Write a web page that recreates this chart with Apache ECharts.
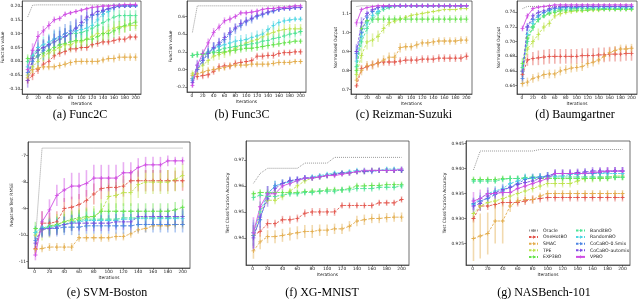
<!DOCTYPE html>
<html><head><meta charset="utf-8">
<script src="https://cdn.jsdelivr.net/npm/echarts@6/dist/echarts.min.js"></script>
<style>html,body{margin:0;padding:0;background:#fff}#c{width:640px;height:299px}</style>
</head><body><div id="c"></div>
<script>
const iterations = [1,10,20,30,40,50,60,70,80,90,100,110,120,130,140,150,160,170,180,190,200];
const methods = ['Oracle','OneHotBO','SMAC','TPE','EXP3BO','BanditBO','RandomBO','CoCaBO-0.5mix','CoCaBO-automix','VPBO'];
const xTicks = [0,20,40,60,80,100,120,140,160,180,200];

// ---------- (a) Func2C ----------
const func2cTicks = [-0.10,-0.05,0.00,0.05,0.10,0.15,0.20];
const func2cOracle = [0.160,0.203,0.204,0.204,0.204,0.204,0.204,0.204,0.204,0.204,0.204,0.204,0.204,0.204,0.204,0.204,0.204,0.204,0.204,0.204,0.204];
const func2cMean = [
 [-0.07,-0.05,-0.03,-0.01,0.0,0.02,0.03,0.035,0.045,0.045,0.05,0.05,0.06,0.065,0.07,0.07,0.075,0.08,0.08,0.088,0.088],
 [-0.06,-0.03,-0.025,-0.02,-0.02,-0.02,-0.015,-0.01,-0.005,0.0,0.0,0.0,0.0,0.0,0.005,0.01,0.01,0.015,0.015,0.015,0.015],
 [-0.05,-0.02,0.0,0.02,0.03,0.04,0.05,0.06,0.06,0.07,0.07,0.08,0.09,0.1,0.1,0.11,0.12,0.125,0.125,0.13,0.13],
 [0.01,0.01,0.02,0.03,0.04,0.05,0.06,0.065,0.07,0.075,0.075,0.08,0.08,0.09,0.1,0.1,0.11,0.12,0.13,0.135,0.142],
 [0.0,0.02,0.04,0.05,0.06,0.07,0.08,0.09,0.1,0.1,0.105,0.11,0.12,0.13,0.14,0.15,0.16,0.165,0.165,0.165,0.165],
 [-0.02,0.02,0.05,0.06,0.07,0.08,0.085,0.09,0.1,0.11,0.115,0.12,0.13,0.15,0.17,0.18,0.195,0.2,0.2,0.2,0.2],
 [-0.04,0.0,0.02,0.04,0.06,0.08,0.09,0.1,0.11,0.12,0.13,0.15,0.165,0.17,0.18,0.19,0.195,0.2,0.2,0.2,0.2],
 [-0.07,0.01,0.04,0.05,0.06,0.07,0.08,0.09,0.1,0.12,0.14,0.16,0.17,0.18,0.185,0.19,0.195,0.2,0.2,0.2,0.201],
 [-0.03,0.04,0.09,0.11,0.13,0.15,0.155,0.17,0.175,0.18,0.185,0.19,0.195,0.197,0.2,0.2,0.202,0.203,0.205,0.205,0.206]
];
const func2cErr = [
 [0.012,0.018,0.016,0.015,0.014,0.014,0.014,0.013,0.013,0.013,0.013,0.013,0.013,0.013,0.012,0.012,0.012,0.012,0.012,0.012,0.012],
 [0.018,0.015,0.012,0.012,0.012,0.012,0.012,0.012,0.012,0.012,0.012,0.012,0.012,0.012,0.012,0.012,0.014,0.014,0.014,0.014,0.014],
 [0.02,0.022,0.022,0.022,0.022,0.024,0.024,0.025,0.025,0.025,0.025,0.025,0.025,0.025,0.025,0.025,0.025,0.022,0.022,0.02,0.02],
 [0.015,0.02,0.025,0.028,0.03,0.03,0.03,0.03,0.03,0.03,0.03,0.028,0.028,0.028,0.028,0.026,0.026,0.025,0.025,0.025,0.025],
 [0.015,0.02,0.025,0.028,0.03,0.03,0.03,0.03,0.03,0.03,0.03,0.03,0.03,0.028,0.028,0.026,0.024,0.022,0.02,0.02,0.02],
 [0.02,0.025,0.028,0.03,0.03,0.03,0.03,0.03,0.03,0.03,0.03,0.03,0.03,0.028,0.025,0.02,0.015,0.01,0.008,0.006,0.006],
 [0.025,0.03,0.035,0.035,0.035,0.035,0.035,0.035,0.035,0.035,0.035,0.03,0.028,0.025,0.02,0.015,0.01,0.008,0.006,0.005,0.005],
 [0.025,0.03,0.03,0.03,0.03,0.03,0.03,0.03,0.03,0.03,0.028,0.025,0.02,0.018,0.015,0.012,0.01,0.008,0.006,0.005,0.005],
 [0.02,0.025,0.02,0.018,0.015,0.012,0.01,0.01,0.008,0.008,0.007,0.006,0.006,0.005,0.005,0.004,0.004,0.004,0.004,0.004,0.004]
];

// ---------- (b) Func3C ----------
const func3cTicks = [-0.2,0.0,0.2,0.4,0.6];
const func3cOracle = [0.42,0.72,0.72,0.72,0.72,0.72,0.72,0.72,0.72,0.72,0.72,0.72,0.72,0.72,0.72,0.72,0.72,0.72,0.72,0.72,0.72];
const func3cMean = [
 [-0.1,-0.08,-0.07,-0.06,-0.02,0.03,0.04,0.04,0.07,0.08,0.09,0.1,0.15,0.15,0.16,0.16,0.18,0.19,0.19,0.2,0.2],
 [-0.07,-0.05,-0.03,-0.01,0.0,0.01,0.02,0.04,0.05,0.05,0.05,0.06,0.06,0.06,0.06,0.07,0.08,0.08,0.08,0.09,0.09],
 [-0.05,0.0,0.05,0.1,0.15,0.17,0.19,0.21,0.24,0.27,0.3,0.32,0.34,0.37,0.4,0.42,0.44,0.45,0.46,0.46,0.46],
 [0.16,0.17,0.17,0.18,0.19,0.19,0.2,0.21,0.22,0.23,0.24,0.24,0.25,0.26,0.27,0.28,0.29,0.3,0.31,0.32,0.32],
 [0.16,0.17,0.18,0.19,0.2,0.22,0.24,0.25,0.26,0.27,0.28,0.29,0.3,0.32,0.33,0.35,0.36,0.38,0.4,0.41,0.43],
 [-0.1,0.0,0.1,0.18,0.24,0.26,0.28,0.3,0.32,0.33,0.34,0.36,0.38,0.4,0.45,0.5,0.53,0.55,0.56,0.57,0.57],
 [-0.12,0.05,0.12,0.2,0.24,0.28,0.34,0.4,0.46,0.5,0.54,0.57,0.6,0.62,0.64,0.66,0.68,0.69,0.69,0.7,0.7],
 [-0.15,0.0,0.1,0.18,0.25,0.3,0.36,0.42,0.47,0.52,0.55,0.58,0.61,0.63,0.65,0.67,0.68,0.69,0.69,0.7,0.7],
 [-0.18,0.05,0.18,0.3,0.42,0.48,0.55,0.57,0.6,0.64,0.64,0.65,0.66,0.68,0.69,0.69,0.7,0.7,0.71,0.72,0.72]
];
const func3cErr = [
 [0.03,0.04,0.04,0.04,0.04,0.04,0.04,0.04,0.04,0.04,0.04,0.04,0.04,0.04,0.04,0.04,0.04,0.035,0.035,0.035,0.035],
 [0.04,0.04,0.04,0.04,0.04,0.035,0.035,0.035,0.035,0.035,0.035,0.035,0.035,0.035,0.035,0.035,0.035,0.03,0.03,0.03,0.03],
 [0.04,0.05,0.05,0.05,0.05,0.06,0.06,0.06,0.06,0.06,0.06,0.06,0.06,0.06,0.06,0.06,0.06,0.06,0.055,0.055,0.055],
 [0.03,0.035,0.035,0.04,0.04,0.04,0.04,0.04,0.04,0.04,0.04,0.04,0.04,0.04,0.04,0.035,0.035,0.035,0.03,0.03,0.03],
 [0.03,0.035,0.04,0.045,0.05,0.05,0.05,0.05,0.05,0.05,0.05,0.05,0.05,0.05,0.05,0.05,0.05,0.05,0.05,0.048,0.048],
 [0.04,0.05,0.06,0.06,0.06,0.06,0.06,0.06,0.06,0.06,0.06,0.06,0.06,0.06,0.05,0.05,0.04,0.04,0.035,0.03,0.03],
 [0.04,0.06,0.07,0.07,0.07,0.07,0.07,0.07,0.06,0.06,0.05,0.05,0.04,0.04,0.03,0.03,0.03,0.02,0.02,0.02,0.02],
 [0.04,0.06,0.06,0.06,0.06,0.06,0.06,0.06,0.05,0.05,0.05,0.04,0.04,0.03,0.03,0.03,0.02,0.02,0.02,0.02,0.02],
 [0.03,0.05,0.05,0.05,0.05,0.04,0.04,0.04,0.03,0.03,0.03,0.03,0.03,0.02,0.02,0.02,0.02,0.015,0.015,0.015,0.015]
];

// ---------- (c) Reizman-Suzuki ----------
const reizmanTicks = [0.7,0.8,0.9,1.0,1.1];
const reizmanOracle = [1.136,1.14,1.14,1.14,1.14,1.14,1.14,1.14,1.14,1.14,1.14,1.14,1.14,1.14,1.14,1.14,1.14,1.14,1.14,1.14,1.14];
const reizmanMean = [
 [0.72,0.81,0.82,0.83,0.84,0.845,0.845,0.845,0.85,0.855,0.855,0.855,0.86,0.86,0.86,0.865,0.865,0.865,0.865,0.865,0.875],
 [0.75,0.8,0.825,0.83,0.84,0.855,0.87,0.87,0.92,0.925,0.925,0.935,0.945,0.945,0.95,0.955,0.955,0.955,0.955,0.96,0.96],
 [0.78,0.88,0.95,0.96,0.98,1.02,1.05,1.06,1.07,1.08,1.09,1.095,1.1,1.105,1.11,1.115,1.12,1.12,1.12,1.125,1.125],
 [0.8,1.02,1.06,1.07,1.07,1.07,1.07,1.07,1.07,1.07,1.07,1.07,1.07,1.07,1.07,1.07,1.07,1.07,1.07,1.07,1.07],
 [0.82,0.95,1.02,1.07,1.1,1.12,1.13,1.135,1.14,1.14,1.14,1.14,1.14,1.14,1.14,1.14,1.14,1.14,1.14,1.14,1.14],
 [0.85,0.98,1.05,1.09,1.11,1.13,1.135,1.14,1.14,1.14,1.14,1.14,1.14,1.14,1.14,1.14,1.14,1.14,1.14,1.14,1.14],
 [0.89,1.0,1.08,1.11,1.13,1.135,1.14,1.14,1.14,1.14,1.14,1.14,1.14,1.14,1.14,1.14,1.14,1.14,1.14,1.14,1.14],
 [0.9,1.05,1.1,1.12,1.13,1.135,1.138,1.14,1.14,1.14,1.14,1.14,1.14,1.14,1.14,1.14,1.14,1.14,1.14,1.14,1.14],
 [1.05,1.12,1.13,1.135,1.14,1.14,1.14,1.14,1.14,1.14,1.14,1.14,1.14,1.14,1.14,1.14,1.14,1.14,1.14,1.14,1.14]
];
const reizmanErr = [
 [0.01,0.02,0.02,0.02,0.02,0.02,0.02,0.02,0.02,0.02,0.02,0.02,0.02,0.02,0.02,0.02,0.02,0.02,0.02,0.02,0.02],
 [0.02,0.025,0.025,0.025,0.025,0.025,0.025,0.025,0.025,0.02,0.02,0.02,0.02,0.02,0.02,0.02,0.02,0.02,0.02,0.02,0.02],
 [0.03,0.04,0.04,0.035,0.03,0.025,0.02,0.015,0.012,0.01,0.01,0.008,0.008,0.006,0.006,0.005,0.005,0.005,0.005,0.005,0.005],
 [0.03,0.02,0.02,0.02,0.02,0.02,0.02,0.02,0.02,0.02,0.02,0.02,0.02,0.02,0.02,0.02,0.02,0.02,0.02,0.02,0.02],
 [0.03,0.03,0.03,0.02,0.015,0.01,0.008,0.006,0.005,0.004,0.004,0.004,0.004,0.004,0.004,0.004,0.004,0.004,0.004,0.004,0.004],
 [0.03,0.03,0.025,0.015,0.01,0.008,0.006,0.005,0.004,0.004,0.004,0.004,0.004,0.004,0.004,0.004,0.004,0.004,0.004,0.004,0.004],
 [0.04,0.03,0.02,0.01,0.006,0.005,0.004,0.004,0.004,0.003,0.003,0.003,0.003,0.003,0.003,0.003,0.003,0.003,0.003,0.003,0.003],
 [0.04,0.03,0.015,0.008,0.006,0.005,0.004,0.004,0.003,0.003,0.003,0.003,0.003,0.003,0.003,0.003,0.003,0.003,0.003,0.003,0.003],
 [0.02,0.01,0.005,0.004,0.003,0.003,0.003,0.003,0.003,0.003,0.003,0.003,0.003,0.003,0.003,0.003,0.003,0.003,0.003,0.003,0.003]
];

// ---------- (d) Baumgartner ----------
const baumTicks = [0.64,0.66,0.68,0.70,0.72,0.74];
const baumOracle = [0.745,0.748,0.748,0.748,0.748,0.748,0.748,0.748,0.748,0.748,0.748,0.748,0.748,0.748,0.748,0.748,0.748,0.748,0.748,0.748,0.748];
const baumMean = [
 [0.655,0.675,0.677,0.678,0.679,0.68,0.68,0.68,0.68,0.68,0.68,0.681,0.681,0.681,0.682,0.682,0.683,0.683,0.683,0.684,0.684],
 [0.643,0.645,0.65,0.652,0.655,0.656,0.656,0.66,0.662,0.664,0.665,0.666,0.67,0.672,0.675,0.68,0.685,0.688,0.69,0.69,0.691],
 [0.66,0.69,0.7,0.71,0.72,0.725,0.735,0.738,0.74,0.741,0.742,0.742,0.743,0.743,0.743,0.744,0.744,0.744,0.744,0.744,0.744],
 [0.67,0.705,0.72,0.73,0.735,0.738,0.74,0.742,0.742,0.743,0.743,0.743,0.743,0.744,0.744,0.744,0.744,0.744,0.744,0.744,0.744],
 [0.665,0.7,0.72,0.73,0.735,0.74,0.742,0.744,0.744,0.745,0.745,0.745,0.745,0.745,0.745,0.745,0.745,0.745,0.745,0.745,0.745],
 [0.66,0.71,0.725,0.735,0.74,0.743,0.745,0.746,0.746,0.746,0.747,0.747,0.747,0.747,0.747,0.747,0.747,0.747,0.747,0.747,0.747],
 [0.65,0.72,0.73,0.735,0.74,0.743,0.745,0.746,0.747,0.747,0.747,0.748,0.748,0.748,0.748,0.748,0.748,0.748,0.748,0.748,0.748],
 [0.66,0.72,0.735,0.74,0.742,0.745,0.747,0.748,0.748,0.748,0.748,0.748,0.748,0.748,0.748,0.748,0.748,0.748,0.748,0.748,0.748],
 [0.718,0.735,0.745,0.747,0.748,0.749,0.75,0.75,0.75,0.75,0.75,0.75,0.75,0.75,0.75,0.75,0.75,0.75,0.75,0.75,0.75]
];
const baumErr = [
 [0.008,0.008,0.009,0.01,0.01,0.01,0.01,0.01,0.01,0.01,0.01,0.01,0.01,0.01,0.01,0.01,0.01,0.01,0.01,0.01,0.01],
 [0.005,0.006,0.006,0.006,0.006,0.006,0.006,0.006,0.006,0.006,0.006,0.006,0.006,0.006,0.006,0.006,0.006,0.006,0.006,0.006,0.006],
 [0.008,0.008,0.008,0.008,0.006,0.005,0.004,0.004,0.003,0.003,0.003,0.003,0.003,0.003,0.003,0.003,0.003,0.003,0.003,0.003,0.003],
 [0.008,0.006,0.005,0.004,0.003,0.003,0.003,0.003,0.003,0.002,0.002,0.002,0.002,0.002,0.002,0.002,0.002,0.002,0.002,0.002,0.002],
 [0.008,0.006,0.005,0.004,0.003,0.003,0.003,0.002,0.002,0.002,0.002,0.002,0.002,0.002,0.002,0.002,0.002,0.002,0.002,0.002,0.002],
 [0.008,0.005,0.004,0.003,0.003,0.002,0.002,0.002,0.002,0.002,0.002,0.002,0.002,0.002,0.002,0.002,0.002,0.002,0.002,0.002,0.002],
 [0.008,0.005,0.004,0.003,0.002,0.002,0.002,0.002,0.002,0.002,0.002,0.002,0.002,0.002,0.002,0.002,0.002,0.002,0.002,0.002,0.002],
 [0.008,0.005,0.004,0.003,0.002,0.002,0.002,0.002,0.002,0.002,0.002,0.002,0.002,0.002,0.002,0.002,0.002,0.002,0.002,0.002,0.002],
 [0.004,0.004,0.003,0.002,0.002,0.001,0.001,0.001,0.001,0.001,0.001,0.001,0.001,0.001,0.001,0.001,0.001,0.001,0.001,0.001,0.001]
];

// ---------- (e) SVM-Boston ----------
const svmTicks = [-11,-10,-9,-8,-7];
const svmOracle = [-10.2,-6.72,-6.72,-6.72,-6.72,-6.72,-6.72,-6.72,-6.72,-6.72,-6.72,-6.72,-6.72,-6.72,-6.72,-6.72,-6.72,-6.72,-6.72,-6.72,-6.72];
const svmMean = [
 [-10.5,-9.55,-9.55,-9.5,-9.0,-8.95,-8.85,-8.7,-8.45,-8.25,-8.2,-8.2,-8.15,-7.95,-7.95,-7.95,-7.95,-7.95,-7.95,-7.95,-7.95],
 [-10.55,-10.5,-10.45,-10.45,-10.45,-10.45,-10.1,-10.1,-10.1,-10.1,-10.1,-10.05,-10.05,-9.95,-9.8,-9.75,-9.65,-9.65,-9.65,-9.6,-9.6],
 [-10.0,-9.8,-9.7,-9.6,-9.5,-9.45,-9.4,-9.35,-9.3,-9.1,-8.55,-8.5,-8.4,-8.4,-8.1,-8.0,-8.0,-8.0,-8.0,-7.9,-7.75],
 [-9.75,-9.75,-9.65,-9.6,-9.5,-9.4,-9.35,-9.3,-9.3,-9.1,-9.1,-9.1,-9.1,-9.1,-9.1,-9.1,-9.1,-9.1,-9.1,-9.05,-8.95],
 [-9.9,-9.75,-9.7,-9.65,-9.6,-9.5,-9.45,-9.4,-9.4,-9.4,-9.4,-9.4,-9.35,-9.35,-9.35,-9.35,-9.35,-9.35,-9.35,-9.35,-9.3],
 [-9.9,-9.7,-9.7,-9.65,-9.6,-9.55,-9.5,-9.45,-9.45,-9.45,-9.45,-9.45,-9.4,-9.4,-9.38,-9.38,-9.38,-9.38,-9.38,-9.38,-9.38],
 [-10.2,-9.75,-9.75,-9.75,-9.7,-9.7,-9.7,-9.65,-9.65,-9.65,-9.65,-9.65,-9.65,-9.65,-9.6,-9.6,-9.6,-9.6,-9.6,-9.6,-9.6],
 [-10.3,-9.8,-9.75,-9.7,-9.6,-9.55,-9.55,-9.55,-9.55,-9.55,-9.55,-9.5,-9.5,-9.5,-9.3,-9.3,-9.3,-9.3,-9.3,-9.3,-9.3],
 [-10.75,-9.5,-9.05,-8.5,-8.3,-8.15,-8.15,-8.05,-7.85,-7.85,-7.85,-7.85,-7.65,-7.65,-7.45,-7.35,-7.35,-7.35,-7.2,-7.2,-7.2]
];
const svmErr = [
 [0.2,0.45,0.4,0.4,0.4,0.4,0.4,0.4,0.4,0.4,0.4,0.4,0.4,0.4,0.4,0.4,0.4,0.4,0.4,0.38,0.38],
 [0.15,0.15,0.15,0.15,0.15,0.15,0.15,0.15,0.15,0.15,0.15,0.15,0.15,0.15,0.15,0.15,0.15,0.15,0.15,0.15,0.15],
 [0.3,0.4,0.4,0.4,0.4,0.4,0.4,0.4,0.4,0.45,0.5,0.5,0.5,0.5,0.5,0.45,0.45,0.45,0.45,0.45,0.45],
 [0.25,0.3,0.3,0.3,0.3,0.3,0.3,0.3,0.3,0.3,0.3,0.3,0.3,0.3,0.3,0.3,0.3,0.3,0.3,0.3,0.3],
 [0.25,0.3,0.3,0.3,0.3,0.3,0.3,0.3,0.3,0.3,0.3,0.3,0.3,0.3,0.3,0.3,0.3,0.3,0.3,0.3,0.3],
 [0.25,0.3,0.3,0.3,0.3,0.3,0.3,0.3,0.3,0.3,0.3,0.3,0.3,0.3,0.3,0.3,0.3,0.3,0.3,0.3,0.3],
 [0.3,0.3,0.3,0.3,0.3,0.3,0.3,0.3,0.3,0.3,0.3,0.3,0.3,0.3,0.3,0.3,0.3,0.3,0.3,0.3,0.3],
 [0.3,0.3,0.3,0.3,0.3,0.3,0.3,0.3,0.3,0.3,0.3,0.3,0.3,0.3,0.3,0.3,0.3,0.3,0.3,0.3,0.3],
 [0.2,0.4,0.4,0.4,0.45,0.5,0.5,0.5,0.5,0.5,0.5,0.5,0.4,0.4,0.35,0.3,0.3,0.3,0.2,0.15,0.15]
];

// ---------- (f) XG-MNIST ----------
const xgTicks = [0.94,0.95,0.96,0.97];
const xgOracle = [0.961,0.9648,0.9668,0.9668,0.9668,0.9668,0.9668,0.9688,0.9688,0.9688,0.9688,0.971,0.971,0.971,0.971,0.971,0.971,0.971,0.971,0.971,0.971];
const xgMean = [
 [0.941,0.9425,0.9455,0.9455,0.947,0.947,0.9475,0.9495,0.95,0.95,0.95,0.95,0.9525,0.9525,0.9525,0.9525,0.9525,0.9535,0.9535,0.9535,0.9548],
 [0.935,0.9385,0.9405,0.9405,0.941,0.9415,0.942,0.9425,0.9425,0.943,0.943,0.9435,0.9435,0.9445,0.9465,0.947,0.9475,0.9475,0.9478,0.948,0.948],
 [0.941,0.95,0.9545,0.9545,0.956,0.958,0.96,0.962,0.963,0.9635,0.964,0.9645,0.965,0.965,0.9655,0.9655,0.966,0.966,0.966,0.966,0.966],
 [0.957,0.9575,0.9575,0.9575,0.9575,0.9575,0.9575,0.9578,0.958,0.958,0.9585,0.9585,0.9585,0.959,0.96,0.96,0.9602,0.9602,0.9605,0.9605,0.9605],
 [0.9555,0.9565,0.956,0.956,0.9565,0.957,0.957,0.9575,0.9575,0.958,0.958,0.958,0.9585,0.9585,0.959,0.959,0.959,0.9595,0.9595,0.9595,0.96],
 [0.942,0.95,0.957,0.96,0.961,0.9615,0.962,0.963,0.9635,0.964,0.9645,0.965,0.965,0.9655,0.966,0.966,0.966,0.966,0.9665,0.9665,0.9665],
 [0.941,0.947,0.957,0.96,0.961,0.962,0.9625,0.963,0.963,0.9635,0.964,0.9645,0.965,0.965,0.9655,0.9655,0.9655,0.966,0.966,0.966,0.966],
 [0.94,0.948,0.955,0.959,0.961,0.962,0.9625,0.963,0.9632,0.9635,0.964,0.9645,0.965,0.965,0.9655,0.9655,0.966,0.966,0.966,0.966,0.966],
 [0.942,0.952,0.957,0.957,0.96,0.961,0.962,0.963,0.963,0.9635,0.964,0.964,0.9645,0.965,0.9655,0.966,0.966,0.966,0.966,0.966,0.9665]
];
const xgErr = [
 [0.002,0.002,0.0018,0.0015,0.0015,0.0015,0.0015,0.0015,0.0015,0.0015,0.0015,0.0015,0.0012,0.0012,0.0012,0.0012,0.0012,0.0012,0.0012,0.0012,0.0012],
 [0.003,0.0028,0.0025,0.0025,0.0025,0.0025,0.0025,0.0025,0.0025,0.0022,0.0022,0.002,0.002,0.002,0.002,0.002,0.0018,0.0018,0.0018,0.0018,0.0018],
 [0.004,0.004,0.0015,0.0015,0.0015,0.0012,0.0012,0.0012,0.001,0.001,0.001,0.001,0.001,0.001,0.001,0.001,0.001,0.001,0.001,0.001,0.001],
 [0.0012,0.0012,0.0012,0.0012,0.0012,0.0012,0.0012,0.0012,0.0012,0.0012,0.0012,0.0012,0.0012,0.0012,0.0012,0.0012,0.0012,0.0012,0.0012,0.0012,0.0012],
 [0.0012,0.0012,0.0012,0.0012,0.0012,0.0012,0.0012,0.0012,0.0012,0.0012,0.0012,0.0012,0.0012,0.0012,0.0012,0.0012,0.0012,0.0012,0.0012,0.0012,0.0012],
 [0.005,0.004,0.003,0.002,0.0015,0.0015,0.0012,0.0012,0.001,0.001,0.001,0.001,0.001,0.001,0.001,0.001,0.001,0.001,0.001,0.001,0.001],
 [0.005,0.004,0.003,0.002,0.0015,0.0015,0.0012,0.0012,0.001,0.001,0.001,0.001,0.001,0.001,0.001,0.001,0.001,0.001,0.001,0.001,0.001],
 [0.005,0.004,0.003,0.002,0.0015,0.0015,0.0012,0.0012,0.001,0.001,0.001,0.001,0.001,0.001,0.001,0.001,0.001,0.001,0.001,0.001,0.001],
 [0.006,0.004,0.003,0.002,0.0015,0.0012,0.0012,0.001,0.001,0.001,0.001,0.001,0.001,0.001,0.001,0.001,0.001,0.001,0.001,0.001,0.001]
];

// ---------- (g) NASBench-101 ----------
const nasTicks = [0.925,0.930,0.935,0.940,0.945];
const nasOracle = [0.9397,0.9435,0.9435,0.9435,0.9435,0.9435,0.9435,0.9435,0.9435,0.9438,0.9438,0.9438,0.9438,0.9438,0.9438,0.9438,0.9438,0.9438,0.9438,0.9438,0.9438];
const nasMean = [
 [0.93,0.9325,0.9325,0.9328,0.9332,0.9332,0.9332,0.9335,0.9338,0.934,0.9342,0.9342,0.9342,0.9342,0.9342,0.9342,0.9342,0.9342,0.9342,0.9342,0.9342],
 [0.926,0.9265,0.927,0.9295,0.9295,0.9325,0.9335,0.9338,0.9338,0.9345,0.935,0.935,0.935,0.935,0.935,0.935,0.935,0.935,0.935,0.935,0.935],
 [0.931,0.9325,0.9332,0.9335,0.934,0.9345,0.935,0.9355,0.936,0.9365,0.937,0.937,0.937,0.937,0.9375,0.938,0.938,0.9382,0.9383,0.9385,0.9385],
 [0.9378,0.9378,0.9378,0.9378,0.938,0.938,0.938,0.938,0.938,0.938,0.938,0.938,0.938,0.938,0.938,0.938,0.938,0.938,0.938,0.9382,0.9382],
 [0.9375,0.9375,0.9375,0.9375,0.9378,0.938,0.938,0.9382,0.9383,0.9383,0.9383,0.9383,0.9383,0.9383,0.9383,0.9383,0.9383,0.9383,0.9383,0.9383,0.9383],
 [0.9328,0.934,0.935,0.9355,0.936,0.937,0.9375,0.938,0.938,0.9383,0.9385,0.9385,0.9385,0.9388,0.9388,0.939,0.939,0.939,0.939,0.939,0.939],
 [0.933,0.9335,0.934,0.9348,0.9355,0.9363,0.937,0.9378,0.9382,0.9383,0.9385,0.939,0.939,0.939,0.939,0.939,0.939,0.9392,0.9393,0.9395,0.9395],
 [0.9325,0.933,0.9345,0.9352,0.9358,0.9362,0.9368,0.9372,0.9375,0.938,0.9385,0.939,0.939,0.939,0.9392,0.9393,0.9395,0.9395,0.9395,0.9395,0.9395],
 [0.9335,0.934,0.935,0.935,0.9352,0.9352,0.936,0.9365,0.937,0.9375,0.938,0.939,0.939,0.939,0.939,0.939,0.9392,0.9393,0.9395,0.9395,0.9395]
];
const nasErr = [
 [0.0008,0.0008,0.0008,0.0008,0.0008,0.0008,0.0008,0.0008,0.0008,0.0008,0.0008,0.0008,0.0008,0.0008,0.0008,0.0008,0.0008,0.0008,0.0008,0.0008,0.0008],
 [0.0045,0.0045,0.0042,0.0045,0.0045,0.0012,0.0008,0.0008,0.0008,0.0007,0.0007,0.0007,0.0007,0.0007,0.0007,0.0007,0.0007,0.0007,0.0007,0.0007,0.0007],
 [0.001,0.001,0.001,0.001,0.001,0.001,0.001,0.001,0.0008,0.0008,0.0008,0.0008,0.0008,0.0008,0.0008,0.0008,0.0008,0.0008,0.0008,0.0008,0.0008],
 [0.0006,0.0006,0.0006,0.0006,0.0006,0.0006,0.0006,0.0006,0.0006,0.0006,0.0006,0.0006,0.0006,0.0006,0.0006,0.0006,0.0006,0.0006,0.0006,0.0006,0.0006],
 [0.0006,0.0006,0.0006,0.0006,0.0006,0.0006,0.0006,0.0006,0.0006,0.0006,0.0006,0.0006,0.0006,0.0006,0.0006,0.0006,0.0006,0.0006,0.0006,0.0006,0.0006],
 [0.0012,0.0012,0.0012,0.001,0.001,0.001,0.001,0.001,0.0008,0.0008,0.0008,0.0008,0.0008,0.0008,0.0008,0.0008,0.0008,0.0008,0.0008,0.0008,0.0008],
 [0.0012,0.0012,0.0012,0.001,0.001,0.001,0.001,0.001,0.0008,0.0008,0.0008,0.0008,0.0008,0.0008,0.0008,0.0008,0.0008,0.0008,0.0008,0.0008,0.0008],
 [0.0015,0.0015,0.0012,0.001,0.001,0.001,0.001,0.001,0.0008,0.0008,0.0008,0.0008,0.0008,0.0008,0.0008,0.0008,0.0008,0.0008,0.0008,0.0008,0.0008],
 [0.0018,0.0018,0.0012,0.001,0.001,0.001,0.001,0.001,0.0008,0.0008,0.0008,0.0008,0.0008,0.0008,0.0008,0.0008,0.0008,0.0008,0.0008,0.0008,0.0008]
];

const captions = ['(a) Func2C','(b) Func3C','(c) Reizman-Suzuki','(d) Baumgartner','(e) SVM-Boston','(f) XG-MNIST','(g) NASBench-101'];
const yNames = ['Function value','Function value','Normalised Output','Normalised Output','Negative Test RMSE','Test Classification Accuracy','Test Classification Accuracy'];

// ---------- layout & styles (not data) ----------
const colors = ['#999999','#e3564d','#e3ad4d','#bde34d','#66e34d','#4de395','#4ed6e3','#4d85e3','#7b4de3','#cf4de3'];
const panels = [
 {grid:{left:19,top:1,width:122,height:93}, y:[-0.118,0.218], ticks:func2cTicks, dec:2, gap:16, oracle:func2cOracle, mean:func2cMean, err:func2cErr, cap:[80,115]},
 {grid:{left:187,top:1,width:119,height:91}, y:[-0.255,0.775], ticks:func3cTicks, dec:1, gap:13, oracle:func3cOracle, mean:func3cMean, err:func3cErr, cap:[242,115]},
 {grid:{left:351,top:1,width:121,height:93}, y:[0.677,1.165], ticks:reizmanTicks, dec:1, gap:12, oracle:reizmanOracle, mean:reizmanMean, err:reizmanErr, cap:[404,115]},
 {grid:{left:517,top:1,width:120,height:93}, y:[0.6287,0.7554], ticks:baumTicks, dec:2, gap:16, oracle:baumOracle, mean:baumMean, err:baumErr, cap:[575,115]},
 {grid:{left:28,top:142,width:162,height:126}, y:[-11.24,-6.49], ticks:svmTicks, dec:0, gap:14, oracle:svmOracle, mean:svmMean, err:svmErr, cap:[107,293]},
 {grid:{left:246,top:141,width:163,height:124}, y:[0.9296,0.9773], ticks:xgTicks, dec:2, gap:16, oracle:xgOracle, mean:xgMean, err:xgErr, cap:[322,293]},
 {grid:{left:466,top:141,width:164,height:124}, y:[0.9207,0.9455], ticks:nasTicks, dec:3, gap:19, oracle:nasOracle, mean:nasMean, err:nasErr, cap:[544,293]}
];
const plusPath = 'path://M4,0H6V4H10V6H6V10H4V6H0V4H4Z';
const FONT = 'DejaVu Sans';
const axisFont = {fontSize:4.4, color:'#222', fontFamily:FONT};

const grids=[], xAxes=[], yAxes=[], series=[], graphics=[];
panels.forEach((p,gi)=>{
  grids.push(Object.assign({show:true, borderColor:'#333', borderWidth:0.7, containLabel:false}, p.grid));
  xAxes.push({type:'value', gridIndex:gi, min:-9, max:210, name:'Iterations', nameLocation:'middle', nameGap:8,
    nameTextStyle:axisFont,
    axisLine:{show:true, onZero:false, lineStyle:{color:'#333', width:0.7}},
    axisTick:{show:true, length:1.8, customValues:xTicks, lineStyle:{color:'#333', width:0.6}},
    axisLabel:Object.assign({customValues:xTicks, margin:2, formatter:v=>String(v)}, axisFont),
    splitLine:{show:false}});
  yAxes.push({type:'value', gridIndex:gi, min:p.y[0], max:p.y[1], name:yNames[gi], nameLocation:'middle', nameGap:p.gap, nameRotate:90,
    nameTextStyle:axisFont,
    axisLine:{show:true, onZero:false, lineStyle:{color:'#333', width:0.7}},
    axisTick:{show:true, length:1.8, customValues:p.ticks, lineStyle:{color:'#333', width:0.6}},
    axisLabel:Object.assign({customValues:p.ticks, margin:2, formatter:v=>Number(v).toFixed(p.dec)}, axisFont),
    splitLine:{show:false}});
  series.push({name:'Oracle', type:'line', xAxisIndex:gi, yAxisIndex:gi, data:iterations.map((x,i)=>[x,p.oracle[i]]),
    showSymbol:false, symbol:'none', lineStyle:{color:colors[0], width:1, type:[1,1]}, itemStyle:{color:colors[0]}, silent:true, animation:false, z:2});
  p.mean.forEach((arr,mi)=>{
    const c = colors[mi+1];
    const errs = p.err[mi];
    series.push({name:'err'+gi+'_'+mi, type:'custom', xAxisIndex:gi, yAxisIndex:gi, animation:false, silent:true, z:2,
      data:iterations.map((x,i)=>[x, arr[i]-errs[i], arr[i]+errs[i]]),
      encode:{x:0,y:[1,2]}, clip:true,
      renderItem:(params,api)=>{
        const a=api.coord([api.value(0),api.value(1)]), b=api.coord([api.value(0),api.value(2)]);
        return {type:'line', shape:{x1:a[0],y1:a[1],x2:b[0],y2:b[1]}, style:{stroke:c, lineWidth:1.6, opacity:0.45}};
      }});
    series.push({name:methods[mi+1], type:'line', xAxisIndex:gi, yAxisIndex:gi, data:iterations.map((x,i)=>[x,arr[i]]),
      symbol:plusPath, symbolSize:4, showSymbol:true, animation:false, silent:true, z:2,
      lineStyle:{color:c, width:0.9, type: mi===8 ? 'solid' : [2.5,1.5]}, itemStyle:{color:c}});
  });
  graphics.push({type:'text', x:p.cap[0], y:p.cap[1], style:{text:captions[gi], fontSize:12, fontFamily:'Liberation Serif', fill:'#000', textAlign:'center', textVerticalAlign:'middle'}});
});

const legText = {fontSize:4.6, fontFamily:FONT, color:'#222'};
const chart = echarts.init(document.getElementById('c'), null, {renderer:'canvas'});
chart.setOption({
  animation:false,
  grid:grids, xAxis:xAxes, yAxis:yAxes, series:series, graphic:graphics,
  legend:[
    {data:methods.slice(0,5), orient:'vertical', left:528, top:228, itemGap:1.6, itemWidth:9, itemHeight:4, padding:0, selectedMode:false, textStyle:legText},
    {data:methods.slice(5), orient:'vertical', left:575, top:228, itemGap:1.6, itemWidth:9, itemHeight:4, padding:0, selectedMode:false, textStyle:legText}
  ]
});
</script></body></html>
